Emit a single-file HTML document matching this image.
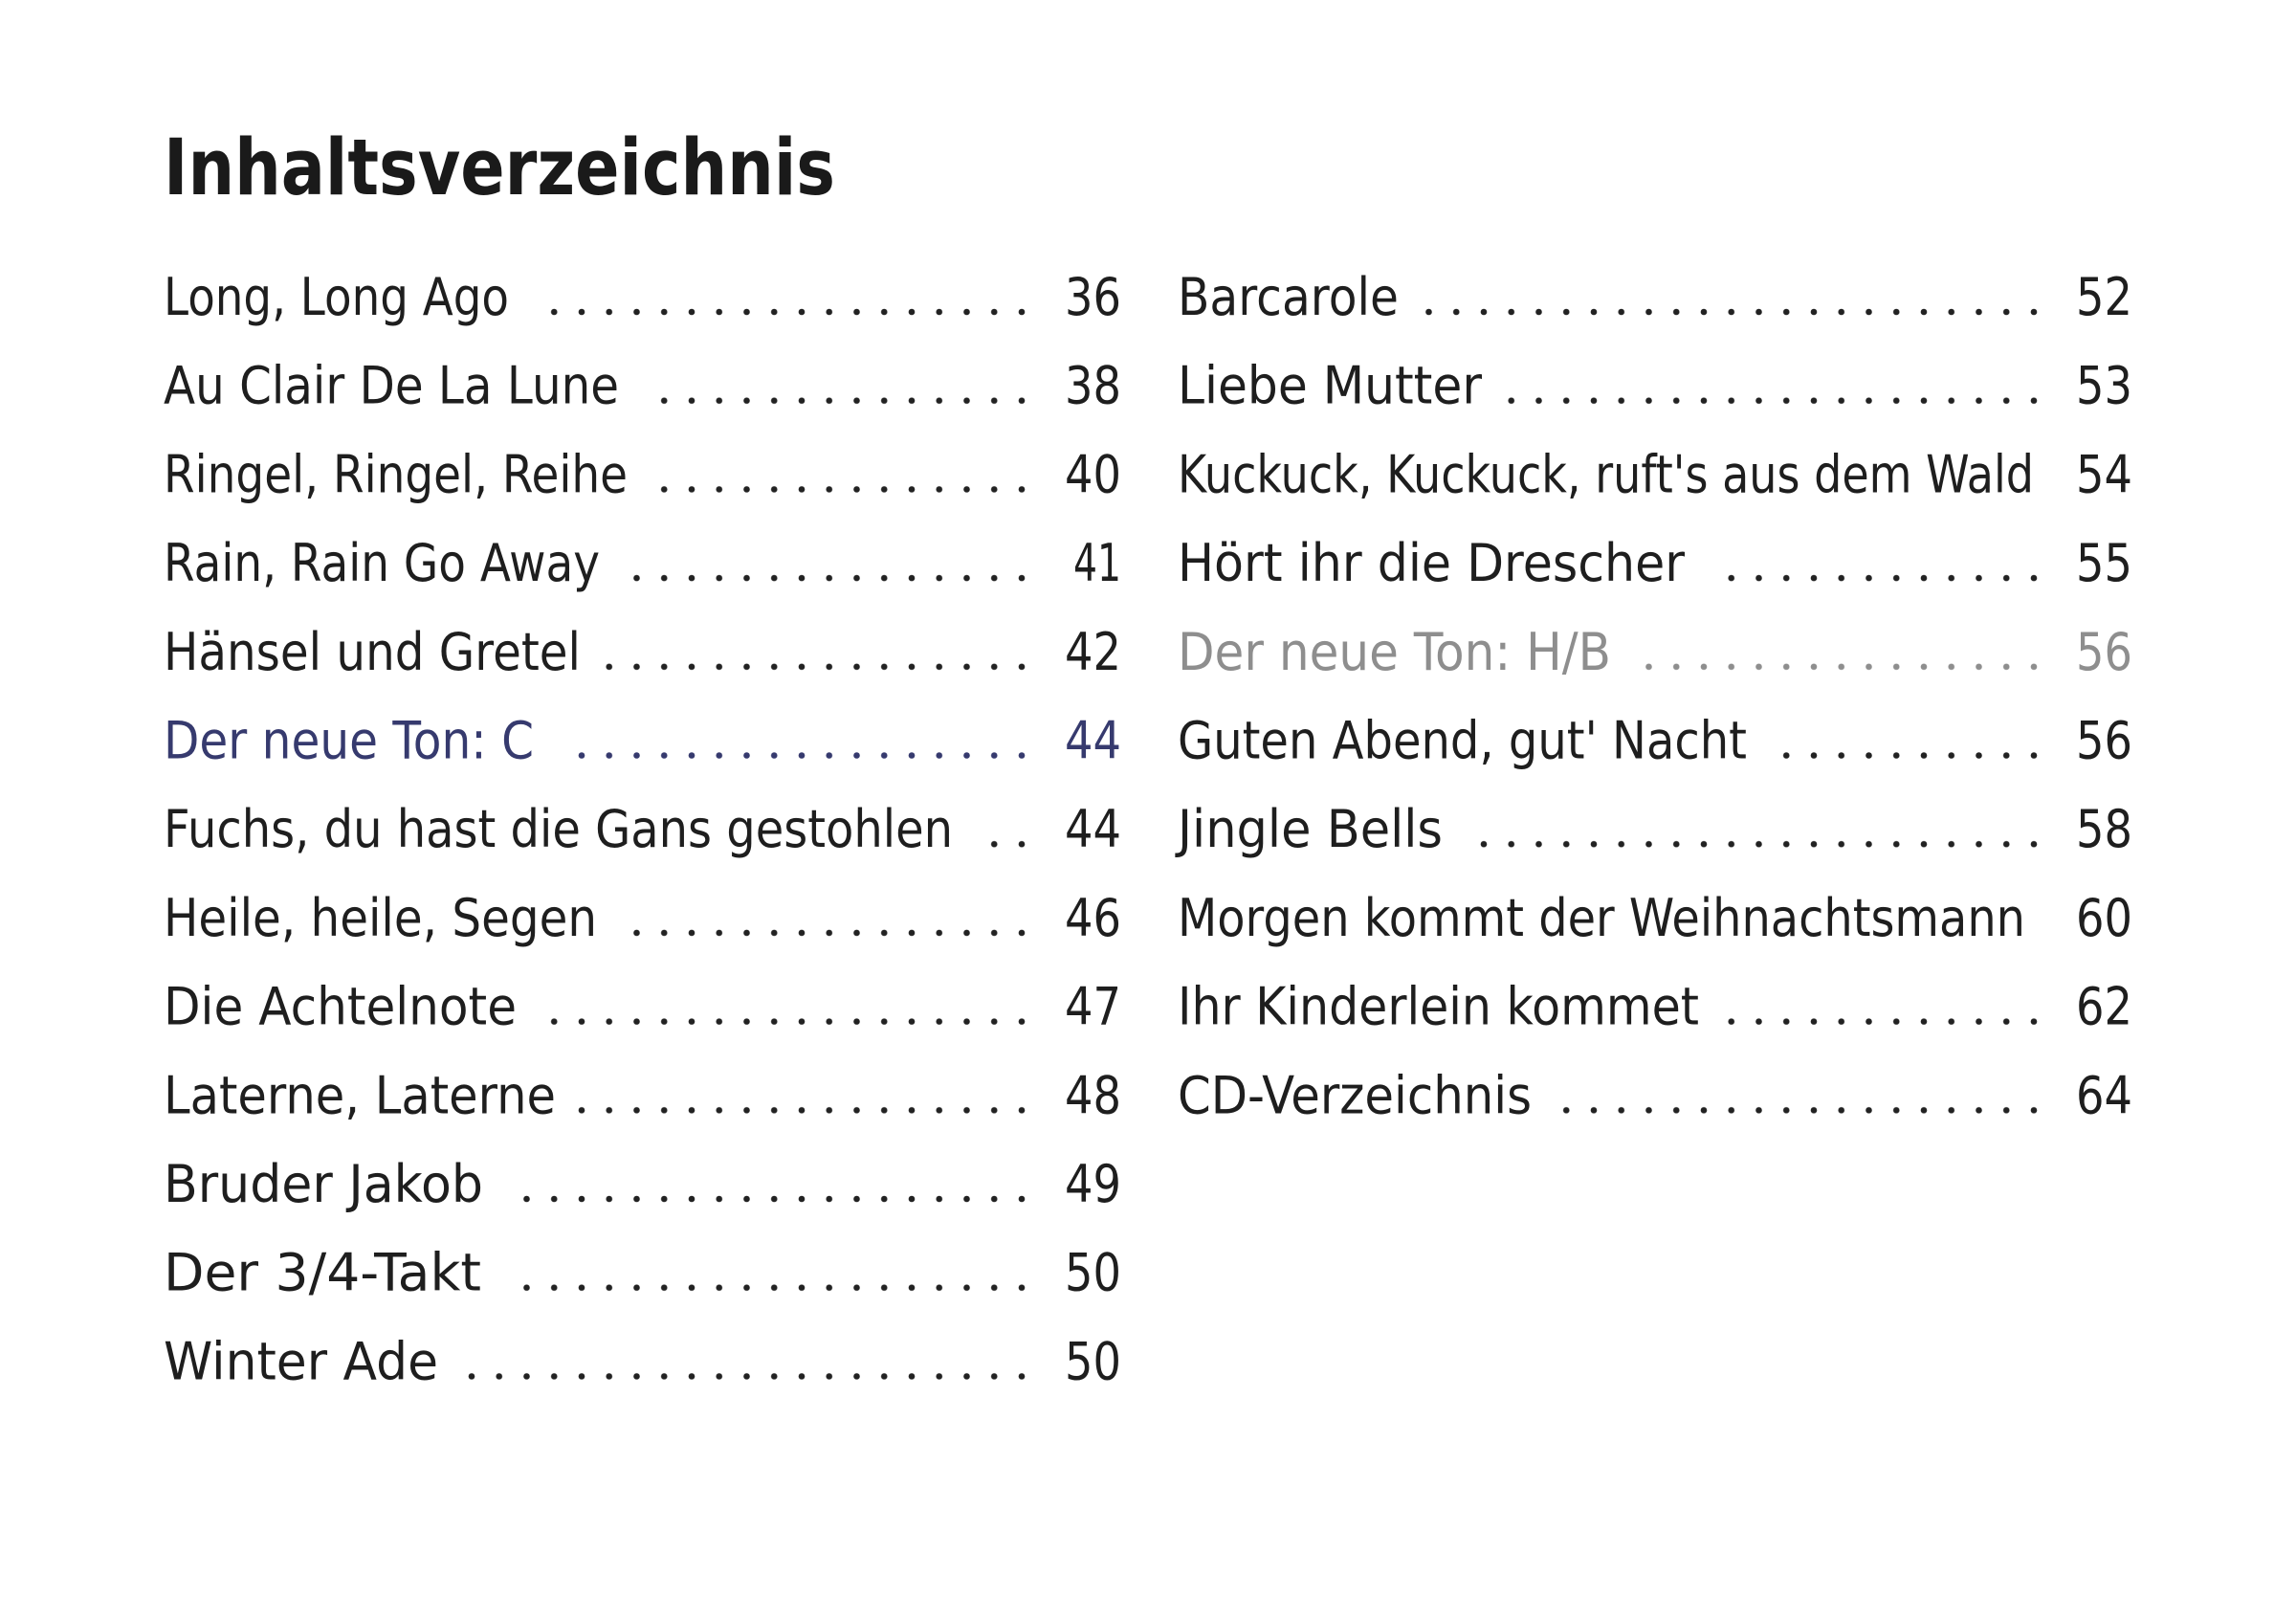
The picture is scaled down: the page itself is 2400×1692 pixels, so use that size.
<!DOCTYPE html>
<html>
<head>
<meta charset="utf-8">
<style>
  html,body{margin:0;padding:0;background:#fff;}
  svg{display:block;}
  text{font-family:"Comic Sans MS","DejaVu Sans","Liberation Sans",sans-serif;}
  .t{font-size:54px;fill:#1e1e1e;}
  .n{font-size:54px;fill:#1e1e1e;text-anchor:end;}
  .blue{fill:#363a6e;}
  .gray{fill:#8e8e8e;}
</style>
</head>
<body>
<svg width="2400" height="1692" viewBox="0 0 2400 1692" xmlns="http://www.w3.org/2000/svg">
  <defs>
    <pattern id="dL" patternUnits="userSpaceOnUse" x="1053.625" y="279.65" width="28.75" height="92.7">
      <circle cx="14.375" cy="46.35" r="3.3" fill="#222"/>
    </pattern>
    <pattern id="dLB" patternUnits="userSpaceOnUse" x="1053.625" y="279.65" width="28.75" height="92.7">
      <circle cx="14.375" cy="46.35" r="3.3" fill="#363a6e"/>
    </pattern>
    <pattern id="dR" patternUnits="userSpaceOnUse" x="2111.625" y="279.65" width="28.75" height="92.7">
      <circle cx="14.375" cy="46.35" r="3.3" fill="#222"/>
    </pattern>
    <pattern id="dRG" patternUnits="userSpaceOnUse" x="2111.625" y="279.65" width="28.75" height="92.7">
      <circle cx="14.375" cy="46.35" r="3.3" fill="#8e8e8e"/>
    </pattern>
  </defs>
  <rect width="2400" height="1692" fill="#fff"/>

  <text x="171" y="203" style="font-size:81px;font-weight:bold;fill:#1a1a1a" textLength="702" lengthAdjust="spacingAndGlyphs">Inhaltsverzeichnis</text>

  <!-- LEFT COLUMN -->
  <g>
    <text class="t" x="171" y="329" textLength="361" lengthAdjust="spacingAndGlyphs">Long, Long Ago</text>
    <rect x="565" y="306" width="517" height="40" fill="url(#dL)"/>
    <text class="n" x="1172" y="329" textLength="59" lengthAdjust="spacingAndGlyphs">36</text>

    <text class="t" x="171" y="421.7" textLength="476" lengthAdjust="spacingAndGlyphs">Au Clair De La Lune</text>
    <rect x="680" y="398" width="402" height="40" fill="url(#dL)"/>
    <text class="n" x="1172" y="421.7" textLength="59" lengthAdjust="spacingAndGlyphs">38</text>

    <text class="t" x="171" y="514.4" textLength="485" lengthAdjust="spacingAndGlyphs">Ringel, Ringel, Reihe</text>
    <rect x="680" y="491" width="402" height="40" fill="url(#dL)"/>
    <text class="n" x="1172" y="514.4" textLength="59" lengthAdjust="spacingAndGlyphs">40</text>

    <text class="t" x="171" y="607.1" textLength="456" lengthAdjust="spacingAndGlyphs">Rain, Rain Go Away</text>
    <rect x="651" y="584" width="431" height="40" fill="url(#dL)"/>
    <text class="n" x="1172" y="607.1" textLength="50" lengthAdjust="spacingAndGlyphs">41</text>

    <text class="t" x="171" y="699.8" textLength="436" lengthAdjust="spacingAndGlyphs">Hänsel und Gretel</text>
    <rect x="622" y="677" width="460" height="40" fill="url(#dL)"/>
    <text class="n" x="1172" y="699.8" textLength="59" lengthAdjust="spacingAndGlyphs">42</text>

    <text class="t blue" x="171" y="792.5" textLength="387" lengthAdjust="spacingAndGlyphs">Der neue Ton: C</text>
    <rect x="594" y="769" width="488" height="40" fill="url(#dLB)"/>
    <text class="n blue" x="1172" y="792.5" textLength="59" lengthAdjust="spacingAndGlyphs">44</text>

    <text class="t" x="171" y="885.2" textLength="825" lengthAdjust="spacingAndGlyphs">Fuchs, du hast die Gans gestohlen</text>
    <rect x="1025" y="862" width="57" height="40" fill="url(#dL)"/>
    <text class="n" x="1172" y="885.2" textLength="59" lengthAdjust="spacingAndGlyphs">44</text>

    <text class="t" x="171" y="977.9" textLength="453" lengthAdjust="spacingAndGlyphs">Heile, heile, Segen</text>
    <rect x="651" y="955" width="431" height="40" fill="url(#dL)"/>
    <text class="n" x="1172" y="977.9" textLength="59" lengthAdjust="spacingAndGlyphs">46</text>

    <text class="t" x="171" y="1070.6" textLength="369" lengthAdjust="spacingAndGlyphs">Die Achtelnote</text>
    <rect x="565" y="1047" width="517" height="40" fill="url(#dL)"/>
    <text class="n" x="1172" y="1070.6" textLength="59" lengthAdjust="spacingAndGlyphs">47</text>

    <text class="t" x="171" y="1163.3" textLength="410" lengthAdjust="spacingAndGlyphs">Laterne, Laterne</text>
    <rect x="594" y="1140" width="488" height="40" fill="url(#dL)"/>
    <text class="n" x="1172" y="1163.3" textLength="59" lengthAdjust="spacingAndGlyphs">48</text>

    <text class="t" x="171" y="1256" textLength="334" lengthAdjust="spacingAndGlyphs">Bruder Jakob</text>
    <rect x="536" y="1233" width="546" height="40" fill="url(#dL)"/>
    <text class="n" x="1172" y="1256" textLength="59" lengthAdjust="spacingAndGlyphs">49</text>

    <text class="t" x="171" y="1348.7" textLength="332" lengthAdjust="spacingAndGlyphs">Der 3/4-Takt</text>
    <rect x="536" y="1326" width="546" height="40" fill="url(#dL)"/>
    <text class="n" x="1172" y="1348.7" textLength="59" lengthAdjust="spacingAndGlyphs">50</text>

    <text class="t" x="171" y="1441.4" textLength="287" lengthAdjust="spacingAndGlyphs">Winter Ade</text>
    <rect x="479" y="1418" width="603" height="40" fill="url(#dL)"/>
    <text class="n" x="1172" y="1441.4" textLength="59" lengthAdjust="spacingAndGlyphs">50</text>
  </g>

  <!-- RIGHT COLUMN -->
  <g>
    <text class="t" x="1231" y="329" textLength="231" lengthAdjust="spacingAndGlyphs">Barcarole</text>
    <rect x="1480" y="306" width="660" height="40" fill="url(#dR)"/>
    <text class="n" x="2229" y="329" textLength="59" lengthAdjust="spacingAndGlyphs">52</text>

    <text class="t" x="1231" y="421.7" textLength="318" lengthAdjust="spacingAndGlyphs">Liebe Mutter</text>
    <rect x="1566" y="398" width="574" height="40" fill="url(#dR)"/>
    <text class="n" x="2229" y="421.7" textLength="59" lengthAdjust="spacingAndGlyphs">53</text>

    <text class="t" x="1231" y="514.4" textLength="895" lengthAdjust="spacingAndGlyphs">Kuckuck, Kuckuck, ruft's aus dem Wald</text>
    <text class="n" x="2229" y="514.4" textLength="59" lengthAdjust="spacingAndGlyphs">54</text>

    <text class="t" x="1231" y="607.1" textLength="530" lengthAdjust="spacingAndGlyphs">Hört ihr die Drescher</text>
    <rect x="1795" y="584" width="345" height="40" fill="url(#dR)"/>
    <text class="n" x="2229" y="607.1" textLength="59" lengthAdjust="spacingAndGlyphs">55</text>

    <text class="t gray" x="1231" y="699.8" textLength="453" lengthAdjust="spacingAndGlyphs">Der neue Ton: H/B</text>
    <rect x="1709" y="677" width="431" height="40" fill="url(#dRG)"/>
    <text class="n gray" x="2229" y="699.8" textLength="59" lengthAdjust="spacingAndGlyphs">56</text>

    <text class="t" x="1231" y="792.5" textLength="595" lengthAdjust="spacingAndGlyphs">Guten Abend, gut' Nacht</text>
    <rect x="1853" y="769" width="287" height="40" fill="url(#dR)"/>
    <text class="n" x="2229" y="792.5" textLength="59" lengthAdjust="spacingAndGlyphs">56</text>

    <text class="t" x="1231" y="885.2" textLength="277" lengthAdjust="spacingAndGlyphs">Jingle Bells</text>
    <rect x="1537" y="862" width="603" height="40" fill="url(#dR)"/>
    <text class="n" x="2229" y="885.2" textLength="59" lengthAdjust="spacingAndGlyphs">58</text>

    <text class="t" x="1231" y="977.9" textLength="886" lengthAdjust="spacingAndGlyphs">Morgen kommt der Weihnachtsmann</text>
    <text class="n" x="2229" y="977.9" textLength="59" lengthAdjust="spacingAndGlyphs">60</text>

    <text class="t" x="1231" y="1070.6" textLength="545" lengthAdjust="spacingAndGlyphs">Ihr Kinderlein kommet</text>
    <rect x="1795" y="1047" width="345" height="40" fill="url(#dR)"/>
    <text class="n" x="2229" y="1070.6" textLength="59" lengthAdjust="spacingAndGlyphs">62</text>

    <text class="t" x="1231" y="1163.3" textLength="370" lengthAdjust="spacingAndGlyphs">CD-Verzeichnis</text>
    <rect x="1623" y="1140" width="517" height="40" fill="url(#dR)"/>
    <text class="n" x="2229" y="1163.3" textLength="59" lengthAdjust="spacingAndGlyphs">64</text>
  </g>
</svg>
</body>
</html>
